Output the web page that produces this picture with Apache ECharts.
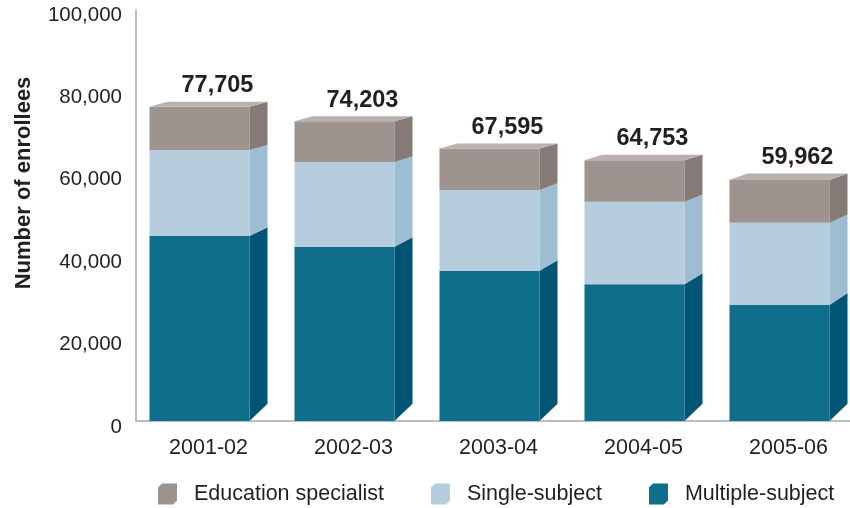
<!DOCTYPE html>
<html><head><meta charset="utf-8">
<script src="https://cdn.jsdelivr.net/npm/echarts@6/dist/echarts.min.js"></script>
<style>html,body{margin:0;padding:0;background:#fff}#c{width:850px;height:508px}</style>
</head><body><div id="c"></div>
<script>
const categories = ['2001-02', '2002-03', '2003-04', '2004-05', '2005-06'];
const multipleSubject = [46360, 43760, 37940, 34640, 29610];
const singleSubject = [20870, 20560, 19580, 20040, 19980];
const educationSpecialist = [10475, 9883, 10075, 10073, 10372];
const totals = [77705, 74203, 67595, 64753, 59962];
const seriesNames = ['Multiple-subject', 'Single-subject', 'Education specialist'];
const legendOrder = ['Education specialist', 'Single-subject', 'Multiple-subject'];

const FONT = '"Liberation Sans", Arial, Helvetica, sans-serif';
const TXT = '#231f20';
const fmt = v => v.toLocaleString('en-US');

const palette = {
  'Multiple-subject': { front: '#0e6e8c', side: '#005474', top: '#2a7f99' },
  'Single-subject': { front: '#b5cddc', side: '#9dbdd2', top: '#c6d8e4' },
  'Education specialist': { front: '#9d9490', side: '#857a76', top: '#bab1ae' }
};

function depth(y) { return 5 + Math.max(0, y - 150) * 0.045; }

function makeRender(name, isTop) {
  const col = palette[name];
  return function (params, api) {
    const i = api.value(0);
    const base = api.value(1), top = api.value(2);
    const bw = api.size([1, 0])[0];
    const p0 = api.coord([i, base]);
    const p1 = api.coord([i, top]);
    const zeroY = api.coord([i, 0])[1];
    const floorY = zeroY - 6;
    const cx = p0[0];
    const xl = cx - bw * 0.407, xr = cx + bw * 0.283, dx = bw * 0.124, xb = xr + dx;
    const yb = base === 0 ? floorY : p0[1];
    const yt = p1[1];
    const children = [
      { type: 'rect', shape: { x: xl, y: yt, width: xr - xl, height: yb - yt }, style: { fill: col.front } },
      { type: 'polygon', shape: { points: [[xr, yt], [xb, yt - depth(yt)], [xb, yb - depth(yb)], [xr, yb]] }, style: { fill: col.side } }
    ];
    if (isTop) {
      const dt = depth(yt);
      children.push({ type: 'polygon', shape: { points: [[xl, yt], [xl + dx, yt - dt], [xb, yt - dt], [xr, yt]] }, style: { fill: col.top } });
      children.push({
        type: 'text',
        style: {
          x: xl + dx + (xr - xl) / 2, y: yt - dt - 16,
          text: fmt(totals[i]),
          fill: TXT, fontFamily: FONT, fontWeight: 'bold', fontSize: 23.5,
          align: 'center', verticalAlign: 'middle'
        }
      });
    }
    return { type: 'group', children };
  };
}

const layers = [multipleSubject, singleSubject, educationSpecialist];
const series = layers.map((arr, k) => {
  const name = seriesNames[k];
  return {
    type: 'custom', name, xAxisIndex: 0, yAxisIndex: 0, clip: false,
    renderItem: makeRender(name, k === layers.length - 1),
    encode: { x: 0, y: [1, 2] },
    itemStyle: { color: palette[name].front },
    data: categories.map((c, i) => {
      let base = 0;
      for (let j = 0; j < k; j++) base += layers[j][i];
      return [i, base, base + arr[i]];
    })
  };
});

const chart = echarts.init(document.getElementById('c'), null, { renderer: 'canvas' });
chart.setOption({
  animation: false,
  backgroundColor: '#fff',
  grid: [
    { left: 136, width: 725, top: 15, bottom: 81, outerBoundsMode: 'none', containLabel: false },
    { left: 136, width: 725, top: 10, bottom: 87, outerBoundsMode: 'none', containLabel: false }
  ],
  xAxis: [
    { type: 'category', gridIndex: 0, data: categories,
      axisLine: { show: false }, axisTick: { show: false },
      axisLabel: { color: TXT, fontFamily: FONT, fontSize: 21.5, margin: 10 } },
    { type: 'category', gridIndex: 1, data: categories,
      axisLine: { show: true, lineStyle: { color: '#bcbcc4', width: 2 } },
      axisTick: { show: false }, axisLabel: { show: false } }
  ],
  yAxis: [
    { type: 'value', gridIndex: 0, min: 0, max: 100000, interval: 20000,
      axisLine: { show: false }, axisTick: { show: false }, splitLine: { show: false },
      axisLabel: { color: TXT, fontFamily: FONT, fontSize: 20.5, margin: 14, formatter: v => fmt(v) } },
    { type: 'value', gridIndex: 1, min: 0, max: 100000, interval: 20000,
      axisLine: { show: true, lineStyle: { color: '#bcbcc4', width: 2 } },
      axisTick: { show: false }, splitLine: { show: false }, axisLabel: { show: false } }
  ],
  legend: {
    data: legendOrder, left: 158, top: 483, padding: 0, itemWidth: 19, itemHeight: 21, itemGap: 47,
    icon: 'path://M0,4 L4,0 L19,0 L19,17 L15,21 L0,21 Z',
    formatter: n => '  ' + n,
    textStyle: { color: TXT, fontFamily: FONT, fontSize: 21.5 }
  },
  graphic: [{
    type: 'text', x: 24, y: 183, rotation: Math.PI / 2,
    style: { text: 'Number of enrollees', fill: TXT, fontFamily: FONT, fontWeight: 'bold', fontSize: 22,
      align: 'center', verticalAlign: 'middle' }
  }],
  series
});
</script></body></html>
